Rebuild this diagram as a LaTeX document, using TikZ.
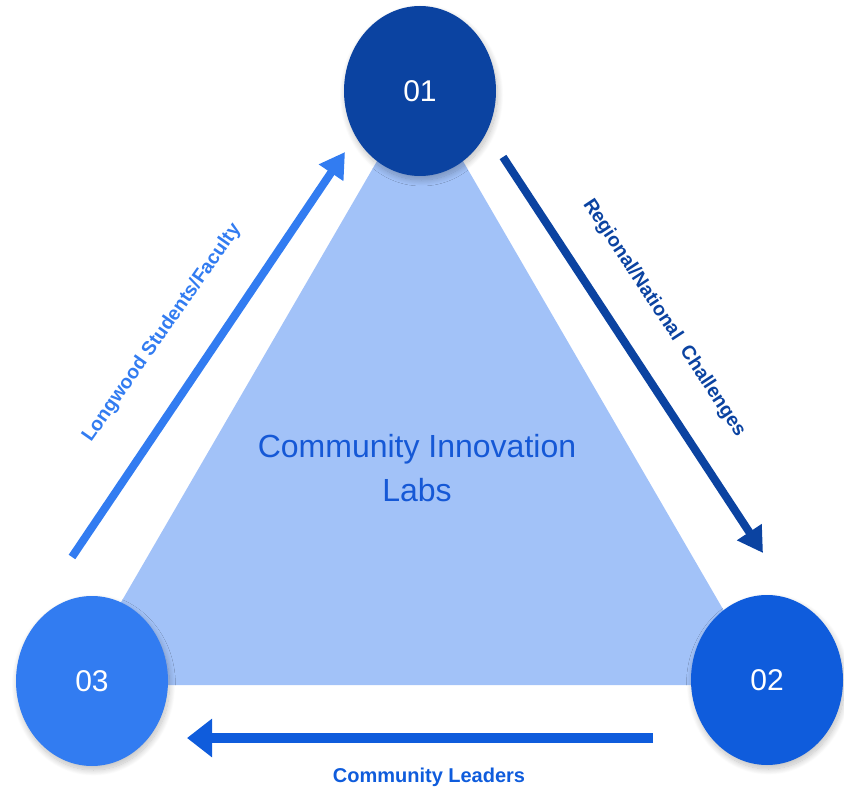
\documentclass[tikz,border=0pt]{standalone}
\usepackage{fontspec}
\setmainfont{Liberation Sans}
\usetikzlibrary{arrows.meta,shapes.geometric,shadows.blur}
\definecolor{cDark}{HTML}{0B43A1}
\definecolor{cMid}{HTML}{0F5CDC}
\definecolor{cLight}{HTML}{327CF1}
\definecolor{cTri}{HTML}{A2C2F8}
\definecolor{cText}{HTML}{1558D6}
\tikzset{
  bubble/.style={ellipse, minimum width=152pt, minimum height=170pt, inner sep=0pt,
    text=white, font=\fontsize{30}{30}\selectfont,
    blur shadow={shadow xshift=1.5pt, shadow yshift=-4pt, shadow blur steps=14, shadow blur radius=6pt, shadow opacity=25}},
  flow/.style={line width=8pt, -{Triangle[length=25pt,width=28pt]}},
  lbl/.style={font=\bfseries\fontsize{19.5}{19.5}\selectfont, inner sep=0pt},
}
\begin{document}
\begin{tikzpicture}[x=1pt,y=-1pt]
\useasboundingbox (0,0) rectangle (844,789);
% triangle
\coordinate (tA) at (420,87);
\coordinate (tB) at (767,685);
\coordinate (tC) at (73,685);
\fill[cTri] (tA) -- (tB) -- (tC) -- cycle;
\node[text=cText, font=\fontsize{32}{44}\selectfont, align=center] (center) at (417,468) {Community Innovation\\Labs};
% arrows
\coordinate (l1) at (72,557);
\coordinate (l2) at (345,152);
\coordinate (r1) at (503,157);
\coordinate (r2) at (763,553);
\coordinate (b1) at (653,738);
\coordinate (b2) at (187,738);
\draw[flow, cLight] (l1) -- (l2);
\draw[flow, cDark] (r1) -- (r2);
\draw[cMid, line width=10pt, -{Triangle[length=25pt,width=37pt]}] (b1) -- (b2);
% labels
\node[lbl, text=cLight, rotate=55] (lw) at (162,333) {Longwood Students/Faculty};
\node[lbl, text=cDark, rotate=-56.6] (rn) at (664,318) {Regional/National\ \ Challenges};
\node[lbl, text=cMid, font=\bfseries\fontsize{20}{20}\selectfont] (cl) at (429,777) {Community Leaders};
% circles
\node[bubble, fill=cDark] (n1) at (420,91) {01};
\node[bubble, fill=cMid] (n2) at (767,680) {02};
\node[bubble, fill=cLight] (n3) at (92,681) {03};
\end{tikzpicture}
\end{document}
